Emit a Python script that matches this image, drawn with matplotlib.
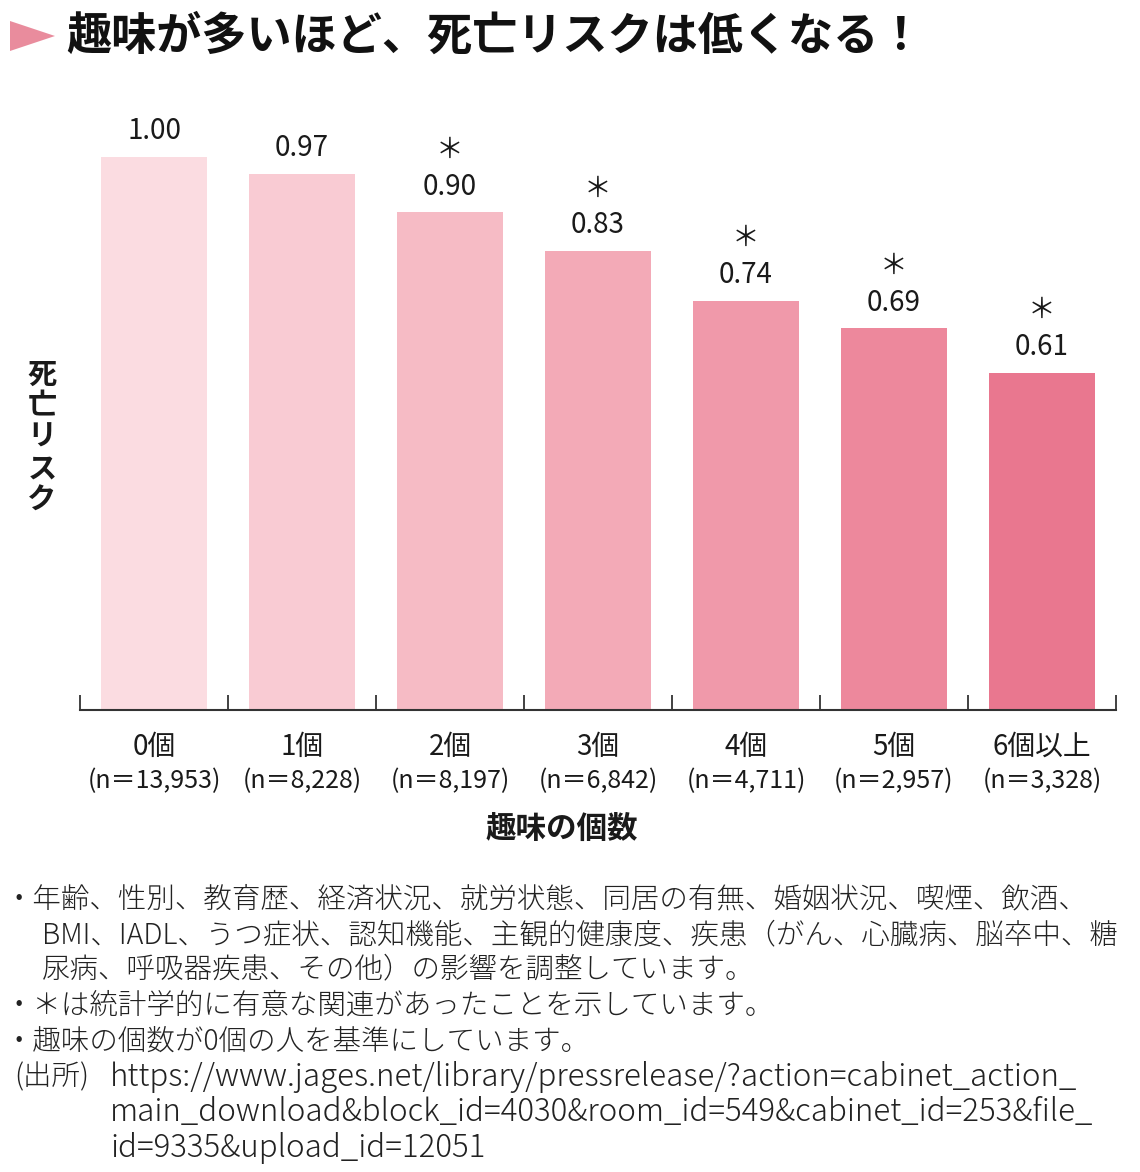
import matplotlib
matplotlib.use("Agg")
import matplotlib.pyplot as plt
from matplotlib.patches import Polygon

plt.rcParams['font.family'] = ['Noto Sans CJK JP', 'DejaVu Sans']

# data
categories = ['0個', '1個', '2個', '3個', '4個', '5個', '6個以上']
n_labels = ['(n＝13,953)', '(n＝8,228)', '(n＝8,197)', '(n＝6,842)',
            '(n＝4,711)', '(n＝2,957)', '(n＝3,328)']
risk = [1.00, 0.97, 0.90, 0.83, 0.74, 0.69, 0.61]
significant = [False, False, True, True, True, True, True]
bar_colors = ['#fbdce1', '#f9cbd3', '#f6bbc5', '#f3aab7', '#f099aa', '#ed889c', '#e9778f']

title = '趣味が多いほど、死亡リスクは低くなる！'
xlabel = '趣味の個数'
ylabel = '死亡リスク'
notes = [
    (5, 899, '・年齢、性別、教育歴、経済状況、就労状態、同居の有無、婚姻状況、喫煙、飲酒、'),
    (42, 935, 'BMI、IADL、うつ症状、認知機能、主観的健康度、疾患（がん、心臓病、脳卒中、糖'),
    (42, 969, '尿病、呼吸器疾患、その他）の影響を調整しています。'),
    (5, 1005, '・＊は統計学的に有意な関連があったことを示しています。'),
    (5, 1041, '・趣味の個数が0個の人を基準にしています。'),
    (14, 1077, '(出所)'),
]
url_lines = [
    (110, 1077, 'https://www.jages.net/library/pressrelease/?action=cabinet_action_'),
    (110, 1112, 'main_download&block_id=4030&room_id=549&cabinet_id=253&file_'),
    (110, 1148, 'id=9335&upload_id=12051'),
]

W, H = 1140, 1172
fig = plt.figure(figsize=(W / 100, H / 100), dpi=100)


def fx(x):
    return x / W


def fy(y):
    return 1 - y / H


ax = fig.add_axes([fx(80), fy(710), (1116 - 80) / W, (710 - 80) / H])
x = range(len(categories))
ax.bar(x, risk, width=0.72, color=bar_colors)
ax.set_xlim(-0.5, len(categories) - 0.5)
ax.set_ylim(0, 630 / 553)

for s in ['top', 'right', 'left']:
    ax.spines[s].set_visible(False)
ax.spines['bottom'].set_color('#333333')
ax.spines['bottom'].set_linewidth(1.5)
ax.set_yticks([])
ax.set_xticks([i - 0.5 for i in range(len(categories) + 1)])
ax.set_xticklabels([])
ax.tick_params(axis='x', direction='in', length=11, width=1.3, color='#333333')

for i, (v, sig) in enumerate(zip(risk, significant)):
    ax.annotate(f'{v:.2f}', xy=(i, v), xytext=(0, 18.5), textcoords='offset points',
                ha='center', va='center', fontsize=20, color='#1a1a1a')
    if sig:
        ax.annotate('＊', xy=(i, v), xytext=(0, 45), textcoords='offset points',
                    ha='center', va='center', fontsize=20, color='#1a1a1a')
    ax.annotate(categories[i], xy=(i, 0), xycoords=('data', 'axes fraction'),
                xytext=(0, -26.5), textcoords='offset points',
                ha='center', va='center', fontsize=20, color='#1a1a1a')
    ax.annotate(n_labels[i], xy=(i, 0), xycoords=('data', 'axes fraction'),
                xytext=(0, -51.5), textcoords='offset points',
                ha='center', va='center', fontsize=18, color='#1a1a1a')

fig.text(fx(562), fy(829), xlabel, ha='center', va='center', fontsize=22,
         fontweight='bold', color='#1a1a1a')
fig.text(fx(42), fy(437), '\n'.join(ylabel), ha='center', va='center', fontsize=21,
         fontweight='bold', color='#1a1a1a', linespacing=1.05)

# title with pink marker
fig.patches.append(Polygon([[fx(10), fy(21)], [fx(10), fy(51)], [fx(55), fy(36)]],
                           closed=True, transform=fig.transFigure,
                           facecolor='#e98c9d', edgecolor='none'))
fig.text(fx(66), fy(37), title, ha='left', va='center', fontsize=32.5,
         fontweight='bold', color='#111111')

for nx, ny, t in notes:
    fig.text(fx(nx), fy(ny), t, ha='left', va='center', fontsize=20.5,
             fontweight='light', color='#222222')
for nx, ny, t in url_lines:
    fig.text(fx(nx), fy(ny), t, ha='left', va='center', fontsize=22.5,
             fontweight='light', color='#222222')

fig.savefig('out.png', dpi=100, facecolor='white')
